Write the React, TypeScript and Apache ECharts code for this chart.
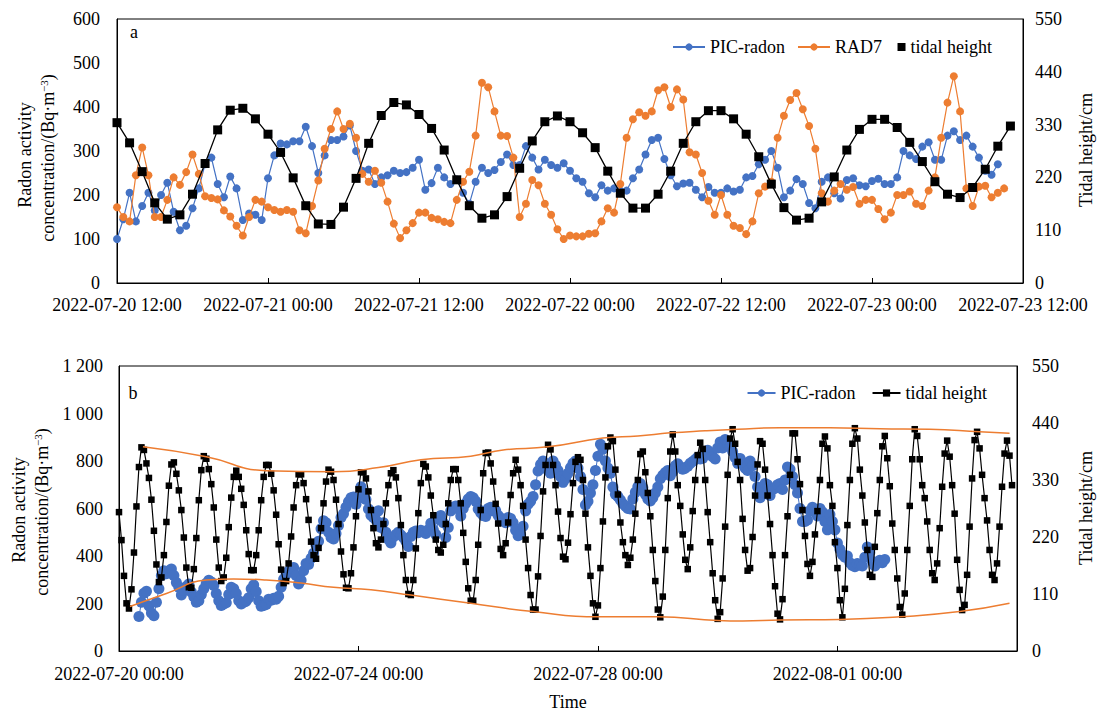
import React, { useEffect, useRef } from "react";
import * as echarts from "echarts";

const BLUE = "#4472C4";
const ORANGE = "#ED7D31";
const FONT = "Liberation Serif, serif";

// ---------- panel a (hours after 2022-07-20 00:00) ----------
const topTideStartHour = 12; // hourly
const topTide = [334,292,232,167,133,142,185,249,319,360,364,342,310,272,219,161,123,122,158,218,291,349,376,371,351,322,277,215,161,135,142,180,239,296,336,348,336,313,282,233,187,156,156,185,233,291,336,359,359,342,310,263,206,157,131,135,169,221,277,320,341,341,324,293,253,211,185,178,199,237,285,327];

const topRadonStartHour = 12; // half-hourly
const topPicRadon = [100,145,205,140,175,205,165,200,228,162,
120,130,170,215,270,285,225,195,242,215,
143,158,155,143,238,290,317,315,322,322,
355,311,250,290,325,325,333,358,300,255,
258,
225,240,245,255,250,252,262,280,212,227,
262,240,225,235,205,180,230,262,250,257,
275,292,268,268,311,285,258,280,268,262,
272,255,238,230,204,195,222,210,215,210,
210,238,258,292,325,330,282,245,220,226,
228,212,195,218,205,205,215,
208,212,240,243,270,280,300,262,195,210,
236,225,182,170,230,240,204,192,234,238,
222,220,232,237,225,225,240,300,290,282,
310,320,280,280,335,345,325,335,310,285,
255,246,270];

const topRad7 = [172,150,140,245,308,245,150,150,189,240,
223,252,292,248,197,193,190,165,151,130,
108,150,189,185,172,166,162,166,162,120,
113,175,233,305,350,390,350,362,330,248,
230,
255,228,185,135,102,120,136,160,160,148,
145,139,136,189,230,253,335,455,445,390,
335,334,285,150,180,234,222,180,155,122,
100,108,106,106,112,113,140,170,160,225,
330,372,388,380,390,438,445,400,440,417,
297,292,250,187,155,200,155,
130,125,111,140,204,219,230,330,380,416,
432,395,357,305,204,185,210,225,212,218,
180,189,189,168,145,160,200,200,208,180,
175,210,240,330,410,470,390,215,175,219,
221,195,205,215];

// ---------- panel b ----------
const bottomTideStartHour = 0; // hourly
const bottomTide = [268,214,145,92,82,119,190,279,355,393,388,362,
334,292,232,167,133,142,185,249,319,360,364,342,310,272,219,161,123,122,158,218,291,349,376,371,351,322,277,215,161,135,142,180,239,296,336,348,336,313,282,233,187,156,156,185,233,291,336,359,359,342,310,263,206,157,131,135,169,221,277,320,341,341,324,293,253,211,185,178,199,237,285,327,
350,346,330,292,245,192,148,122,121,150,200,260,312,345,345,333,
308,272,237,208,200,215,245,285,320,343,349,
335,295,243,185,137,110,108,137,198,266,
324,361,356,335,300,262,215,195,190,205,
245,285,330,351,351,330,285,228,172,121,
97,97,137,205,272,343,382,383,362,327,
284,246,197,185,208,248,301,343,369,350,
320,280,215,160,108,80,80,144,222,308,
359,398,389,359,320,269,218,182,177,209,
264,324,365,374,369,330,265,200,145,92,
66,88,160,250,335,395,412,405,350,302,
248,210,185,166,180,215,265,330,380,385,
345,305,260,195,135,80,65,105,195,295,
385,418,385,320,280,225,176,158,200,270,
330,378,402,390,330,268,210,150,98,62,
75,140,240,340,410,428,400,365,
330,255,195,155,160,220,300,360,405,400,
350,300,245,185,125,72,61,100,185,260,
340,420,420,370,322,272,222,168,145,172,
225,270,330,400,414,391,320,280,210,160,
98,65,120,243,330,400,430,410,350,300,
248,195,147,143,201,266,330,395,415,372,
318,246,195,140,85,70,111,195,280,370,
428,415,370,320,295,250,195,150,137,169,
237,317,381,406,375,320,265,176,118,79,
89,147,240,333,407,423,391,340,295,252,
195,147,137,169,240,317,381,406,377,320];

const bottomPicStartHour = 8; // hourly
const bottomPicRadon = [145,205,243,252,190,160,148,205,262,318,338,325,
338,345,318,288,268,236,255,272,282,248,228,205,
212,238,262,285,298,290,276,242,212,192,198,203,
238,268,262,242,212,198,205,210,224,262,278,250,
212,188,192,196,218,214,222,218,230,268,302,322,
336,348,352,318,282,298,338,368,364,390,412,445,
462,515,548,540,500,478,472,495,528,562,578,605,
628,645,648,618,642,692,668,638,598,572,562,552,
590,520,540,500,470,455,480,490,500,488,478,462,
440,482,500,505,498,508,502,495,510,538,510,490,
555,570,540,478,520,590,605,610,598,568,600,622,
640,650,645,630,598,582,570,566,600,605,590,592,
570,560,550,540,562,558,540,508,485,492,525,590,
618,630,650,700,758,785,800,780,760,748,800,782,
760,735,710,725,748,772,790,800,770,735,680,615,
630,665,700,760,820,870,850,800,770,748,690,660,
650,636,620,610,600,598,640,668,692,705,688,660,
640,632,645,665,690,725,740,752,760,738,755,780,
788,776,765,770,778,790,798,806,816,808,812,835,
845,836,818,808,855,880,855,890,870,860,840,815,
790,810,795,770,760,800,780,735,690,645,670,705,
700,655,680,685,700,705,680,720,775,765,735,700,
665,600,545,545,552,590,605,585,568,600,585,545,
510,575,545,510,455,428,405,395,400,372,360,355,
368,362,358,395,438,415,378,358,370,382,372,385];

// envelope curves of tidal height: [hour, cm]
const upperEnvelope = [[9.6,394],[35,375],[59,348],[86,346],[104,354],[121,369],[141,376],[154,388],[172,394],[194,411],[208,415],[221,421],[235,425],[248,428],[265,431],[285,431],[305,429],[325,428],[345,423],[357,420]];
const lowerEnvelope = [[4.4,86],[19,111],[35,137],[46,139],[59,137],[73,131],[86,123],[101,118],[117,108],[141,92],[166,76],[192,66],[216,66],[240,59],[250,58],[265,60],[289,61],[313,66],[337,76],[357,92]];

const BASE = Date.UTC(2022, 6, 20, 0, 0);
const pad = (n: number) => String(n).padStart(2, "0");
function fmtHour(h: number): string {
  const d = new Date(BASE + Math.round(h * 3600000));
  return `${d.getUTCFullYear()}-${pad(d.getUTCMonth() + 1)}-${pad(d.getUTCDate())} ${pad(d.getUTCHours())}:${pad(d.getUTCMinutes())}`;
}
function fmtThousands(v: number): string {
  if (v >= 1000) return `${Math.floor(v / 1000)} ${String(v % 1000).padStart(3, "0")}`;
  return String(v);
}

const seq = (arr: number[], start: number, step: number) => arr.map((v, i) => [start + i * step, v]);

const txt = { color: "#000", fontFamily: FONT, fontSize: 18 };

export default function App() {
  const ref = useRef<HTMLDivElement>(null);
  useEffect(() => {
    document.body.style.margin = "0";
    const chart = echarts.init(ref.current!, null, { renderer: "svg" });
    const axisLine = { show: true, lineStyle: { color: "#000", width: 1 } };
    const xBase = {
      type: "value" as const,
      axisLine,
      axisTick: { show: true, inside: true, length: 5, lineStyle: { color: "#000" } },
      splitLine: { show: false },
    };
    const yBase = {
      type: "value" as const,
      axisLine,
      axisTick: { show: false },
      splitLine: { show: false },
    };
    const supRich = {
      n: { fontFamily: FONT, fontSize: 18, lineHeight: 20, color: "#000" },
      s: { fontFamily: FONT, fontSize: 11, lineHeight: 20, verticalAlign: "top", color: "#000" },
    };
    const option: any = {
      animation: false,
      backgroundColor: "#fff",
      grid: [
        { left: 117, top: 19, width: 906, height: 264, show: true, borderColor: "#000", borderWidth: 1, backgroundColor: "transparent" },
        { left: 119, top: 366, width: 898, height: 285, show: true, borderColor: "#000", borderWidth: 1, backgroundColor: "transparent" },
      ],
      xAxis: [
        { ...xBase, gridIndex: 0, min: 12, max: 84, interval: 12, axisLabel: { ...txt, margin: 13, formatter: fmtHour, showMinLabel: true, showMaxLabel: true } },
        { ...xBase, gridIndex: 1, min: 0, max: 360, interval: 96, axisLabel: { ...txt, margin: 14, formatter: fmtHour, showMinLabel: true, showMaxLabel: false } },
      ],
      yAxis: [
        { ...yBase, gridIndex: 0, position: "left", min: 0, max: 600, interval: 100, axisLabel: { ...txt, margin: 17 } },
        { ...yBase, gridIndex: 0, position: "right", min: 0, max: 550, interval: 110, axisLabel: { ...txt, margin: 12 } },
        { ...yBase, gridIndex: 1, position: "left", min: 0, max: 1200, interval: 200, axisLabel: { ...txt, margin: 16, formatter: fmtThousands } },
        { ...yBase, gridIndex: 1, position: "right", min: 0, max: 550, interval: 110, axisLabel: { ...txt, margin: 15 } },
      ],
      legend: [
        { data: ["PIC-radon", "RAD7"], right: 211, top: 33, itemWidth: 32, itemHeight: 9, itemGap: 12, textStyle: txt, selectedMode: false },
        { data: [{ name: "tidal height", icon: "rect" }], right: 101, top: 33, itemWidth: 8, itemHeight: 8, textStyle: txt, selectedMode: false },
        { data: ["PIC-radon", "tidal height"], right: 106, top: 379, itemWidth: 28, itemHeight: 9, itemGap: 16, textStyle: txt, selectedMode: false },
      ],
      series: [
        {
          type: "line", name: "PIC-radon", xAxisIndex: 0, yAxisIndex: 0,
          data: seq(topPicRadon, topRadonStartHour, 0.5),
          symbol: "circle", symbolSize: 8, itemStyle: { color: BLUE }, lineStyle: { color: BLUE, width: 1.2 }, z: 2,
        },
        {
          type: "line", name: "RAD7", xAxisIndex: 0, yAxisIndex: 0,
          data: seq(topRad7, topRadonStartHour, 0.5),
          symbol: "circle", symbolSize: 8, itemStyle: { color: ORANGE }, lineStyle: { color: ORANGE, width: 1.2 }, z: 3,
        },
        {
          type: "line", name: "tidal height", xAxisIndex: 0, yAxisIndex: 1,
          data: seq(topTide, topTideStartHour, 1),
          symbol: "rect", symbolSize: 9, itemStyle: { color: "#000" }, lineStyle: { color: "#000", width: 1.3 }, z: 4,
        },
        {
          type: "line", name: "PIC-radon", xAxisIndex: 1, yAxisIndex: 2,
          data: seq(bottomPicRadon, bottomPicStartHour, 1),
          symbol: "circle", symbolSize: 11, itemStyle: { color: BLUE }, lineStyle: { color: BLUE, width: 1 }, z: 2,
        },
        {
          type: "line", name: "tidal height", xAxisIndex: 1, yAxisIndex: 3,
          data: seq(bottomTide, bottomTideStartHour, 1),
          symbol: "rect", symbolSize: 6.5, itemStyle: { color: "#000" }, lineStyle: { color: "#000", width: 1.2 }, z: 4,
        },
        {
          type: "line", name: "upper envelope", xAxisIndex: 1, yAxisIndex: 3,
          data: upperEnvelope, smooth: true, showSymbol: false, symbol: "none",
          lineStyle: { color: ORANGE, width: 1.5 }, itemStyle: { color: ORANGE }, z: 5,
        },
        {
          type: "line", name: "lower envelope", xAxisIndex: 1, yAxisIndex: 3,
          data: lowerEnvelope, smooth: true, showSymbol: false, symbol: "none",
          lineStyle: { color: ORANGE, width: 1.5 }, itemStyle: { color: ORANGE }, z: 5,
        },
      ],
      graphic: [
        { type: "text", x: 134, y: 32, style: { text: "a", fill: "#000", fontFamily: FONT, fontSize: 18, align: "center", verticalAlign: "middle" } },
        { type: "text", x: 133, y: 393, style: { text: "b", fill: "#000", fontFamily: FONT, fontSize: 18, align: "center", verticalAlign: "middle" } },
        { type: "text", x: 25, y: 155, rotation: Math.PI / 2, style: { text: "Radon activity", fill: "#000", fontFamily: FONT, fontSize: 18, align: "center", verticalAlign: "middle" } },
        {
          type: "text", x: 48, y: 158, rotation: Math.PI / 2,
          style: { text: "{n|concentration/(Bq·m}{s|−3}{n|)}", fill: "#000", fontFamily: FONT, fontSize: 18, align: "center", verticalAlign: "middle", rich: supRich },
        },
        { type: "text", x: 1086, y: 150, rotation: Math.PI / 2, style: { text: "Tidal height/cm", fill: "#000", fontFamily: FONT, fontSize: 18, align: "center", verticalAlign: "middle" } },
        { type: "text", x: 19, y: 510, rotation: Math.PI / 2, style: { text: "Radon activity", fill: "#000", fontFamily: FONT, fontSize: 18, align: "center", verticalAlign: "middle" } },
        {
          type: "text", x: 42, y: 512, rotation: Math.PI / 2,
          style: { text: "{n|concentration/(Bq·m}{s|−3}{n|)}", fill: "#000", fontFamily: FONT, fontSize: 18, align: "center", verticalAlign: "middle", rich: supRich },
        },
        { type: "text", x: 1086, y: 508, rotation: Math.PI / 2, style: { text: "Tidal height/cm", fill: "#000", fontFamily: FONT, fontSize: 18, align: "center", verticalAlign: "middle" } },
        { type: "text", x: 568, y: 702, style: { text: "Time", fill: "#000", fontFamily: FONT, fontSize: 18, align: "center", verticalAlign: "middle" } },
      ],
    };
    chart.setOption(option);
    return () => chart.dispose();
  }, []);
  return <div ref={ref} style={{ width: 1098, height: 713 }} />;
}
